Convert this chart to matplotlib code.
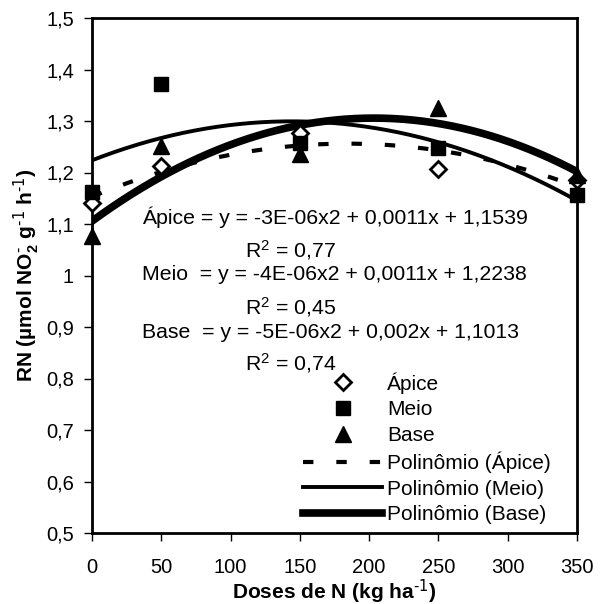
import numpy as np
from matplotlib import pyplot as plt

plt.rcParams['font.family'] = ['Liberation Sans', 'DejaVu Sans']
plt.rcParams['mathtext.default'] = 'regular'

doses = [0, 50, 150, 250, 350]
apice = [1.14, 1.212, 1.277, 1.207, 1.186]
meio = [1.162, 1.371, 1.257, 1.247, 1.157]
base = [1.077, 1.252, 1.236, 1.326, 1.195]

eq_apice = 'Ápice = y = -3E-06x2 + 0,0011x + 1,1539'
eq_meio = 'Meio  = y = -4E-06x2 + 0,0011x + 1,2238'
eq_base = 'Base  = y = -5E-06x2 + 0,002x + 1,1013'
r2_labels = ['0,77', '0,45', '0,74']

yticks = [0.5, 0.6, 0.7, 0.8, 0.9, 1.0, 1.1, 1.2, 1.3, 1.4, 1.5]
ytick_labels = ['0,5', '0,6', '0,7', '0,8', '0,9', '1', '1,1', '1,2', '1,3', '1,4', '1,5']
xticks = [0, 50, 100, 150, 200, 250, 300, 350]

fig = plt.figure(figsize=(6.06, 6.04), dpi=100)
ax = fig.add_axes([92/606, 1 - 533/604, (577-92)/606, (533-18)/604])

# trend lines (2nd order polynomial, as the spreadsheet does)
xs = np.linspace(0, 350, 300)
fit_a = np.polyval(np.polyfit(doses, apice, 2), xs)
fit_m = np.polyval(np.polyfit(doses, meio, 2), xs)
fit_b = np.polyval(np.polyfit(doses, base, 2), xs)

ax.plot(doses, apice, 'D', ms=8, mfc='white', mec='black', mew=2, label='Ápice', zorder=5, clip_on=False)
ax.plot(doses, meio, 's', ms=10, color='black', label='Meio', zorder=5, clip_on=False)
ax.plot(doses, base, '^', ms=11, color='black', label='Base', zorder=5, clip_on=False)
ax.plot(xs, fit_a, color='black', lw=3, ls=(0, (2.5, 5.5)), label='Polinômio (Ápice)')
ax.plot(xs, fit_m, color='black', lw=2.8, label='Polinômio (Meio)')
ax.plot(xs, fit_b, color='black', lw=5.5, label='Polinômio (Base)')

ax.set_xlim(0, 350)
ax.set_ylim(0.5, 1.5)
ax.set_xticks(xticks)
ax.set_yticks(yticks)
ax.set_yticklabels(ytick_labels)
ax.tick_params(labelsize=14.5, length=6, width=1, direction='out')
ax.tick_params(axis='x', pad=12)
ax.tick_params(axis='y', pad=7)
for s in ax.spines.values():
    s.set_linewidth(2)

ax.set_xlabel(r'Doses de N (kg ha$^{\text{-1}}$)', fontsize=15, fontweight='bold', labelpad=0)
ax.set_ylabel(r'RN (µmol NO$_2^{\text{-}}$ g$^{\text{-1}}$ h$^{\text{-1}}$)', fontsize=15,
              fontweight='bold', labelpad=4)

fs = 15.3
fig.text(142/606, 1 - 217/604, eq_apice, fontsize=fs, va='center')
fig.text(245/606, 1 - 250/604, 'R$^2$ = ' + r2_labels[0], fontsize=fs, va='center')
fig.text(142/606, 1 - 275/604, eq_meio, fontsize=fs, va='center')
fig.text(245/606, 1 - 307/604, 'R$^2$ = ' + r2_labels[1], fontsize=fs, va='center')
fig.text(142/606, 1 - 333/604, eq_base, fontsize=fs, va='center')
fig.text(245/606, 1 - 363/604, 'R$^2$ = ' + r2_labels[2], fontsize=fs, va='center')

ax.legend(loc='upper left', bbox_to_anchor=(303/606, 1 - 372/604), bbox_transform=fig.transFigure,
          frameon=False, fontsize=15, handlelength=3.8, handletextpad=0.25, labelspacing=0.32,
          borderpad=0, borderaxespad=0)

fig.savefig('out.png', dpi=100)
